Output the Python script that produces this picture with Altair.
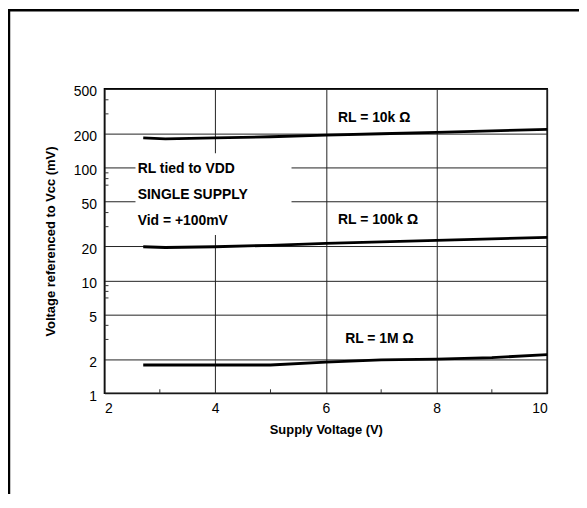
import altair as alt
import pandas as pd

# ---- data ----
x_10k = [2.7, 3.1, 4, 5, 6, 7, 8, 9, 10]
y_10k = [184, 180, 184, 188, 194, 200, 206, 212, 219]
x_100k = [2.7, 3.1, 4, 5, 6, 7, 8, 9, 10]
y_100k = [19.9, 19.6, 19.9, 20.5, 21.3, 22.0, 22.7, 23.4, 24.1]
x_1m = [2.7, 4, 5, 6, 7, 8, 9, 10]
y_1m = [1.78, 1.78, 1.78, 1.89, 1.98, 2.01, 2.07, 2.2]

x_major = [2, 4, 6, 8, 10]
x_minor = [3, 5, 7, 9]
y_major = [1, 2, 5, 10, 20, 50, 100, 200, 500]
y_minor = [400, 300, 90, 80, 70, 40, 30, 9, 8, 7, 4, 3]

curve_labels = ["RL = 10k  Ω", "RL = 100k Ω", "RL = 1M Ω"]
curve_label_x = [6.22, 6.22, 6.35]
curve_label_y = [277, 34.2, 3.0]

box_lines = ["RL tied to VDD", "SINGLE SUPPLY", "Vid = +100mV"]
box_x = [2.6, 2.6, 2.6]
box_y = [98, 57, 34]
box_rect = {"x0": [2.56], "x1": [5.38], "y0": [25.3], "y1": [134]}

FONT = "Liberation Sans"
W, H = 445, 306

rows = []
for name, xs, ys in [("10k", x_10k, y_10k), ("100k", x_100k, y_100k), ("1M", x_1m, y_1m)]:
    for a, b in zip(xs, ys):
        rows.append({"series": name, "x": a, "y": b})
df = pd.DataFrame(rows)

xscale = alt.Scale(domain=[2, 10], nice=False, zero=False)
yscale = alt.Scale(type="log", domain=[1, 500], nice=False)

X_AX = alt.Axis(values=x_major, grid=True, ticks=False, domain=False,
                labelFontSize=14, labelPadding=8, labelFont=FONT, labelColor="black",
                title="Supply Voltage (V)", titleFont=FONT, titleFontSize=13,
                titleFontWeight="bold", titleColor="black", titlePadding=8)
Y_AX = alt.Axis(values=y_major, grid=True, ticks=False, domain=False,
                labelFontSize=14, labelPadding=8, labelOffset=3, labelFont=FONT,
                labelColor="black", labelExpr="datum.value",
                title="Voltage referenced to Vcc (mV)", titleFont=FONT, titleFontSize=13,
                titleFontWeight="bold", titleColor="black", titlePadding=16)

rect = alt.Chart(pd.DataFrame(box_rect)).mark_rect(color="white").encode(
    x=alt.X("x0:Q", scale=xscale, axis=X_AX),
    x2="x1:Q",
    y=alt.Y("y0:Q", scale=yscale, axis=Y_AX),
    y2="y1:Q",
)

lines = alt.Chart(df).mark_line(color="black", strokeWidth=2.8).encode(
    x=alt.X("x:Q", scale=xscale, axis=X_AX),
    y=alt.Y("y:Q", scale=yscale, axis=Y_AX),
    detail="series:N",
)

lab_df = pd.DataFrame({"x": curve_label_x, "y": curve_label_y, "t": curve_labels})
curve_text = alt.Chart(lab_df).mark_text(
    align="left", baseline="middle", font=FONT, fontSize=14, fontWeight="bold", color="black"
).encode(
    x=alt.X("x:Q", scale=xscale, axis=X_AX),
    y=alt.Y("y:Q", scale=yscale, axis=Y_AX),
    text="t:N",
)

box_df = pd.DataFrame({"x": box_x, "y": box_y, "t": box_lines})
box_text = alt.Chart(box_df).mark_text(
    align="left", baseline="middle", font=FONT, fontSize=14, fontWeight="bold", color="black"
).encode(
    x=alt.X("x:Q", scale=xscale, axis=X_AX),
    y=alt.Y("y:Q", scale=yscale, axis=Y_AX),
    text="t:N",
)

ymin_ticks = alt.Chart(pd.DataFrame({"y": y_minor})).mark_rule(color="#333", strokeWidth=1).encode(
    y=alt.Y("y:Q", scale=yscale, axis=Y_AX),
    x=alt.value(0),
    x2=alt.value(4),
)
xmin_ticks = alt.Chart(pd.DataFrame({"x": x_minor})).mark_rule(color="#333", strokeWidth=1).encode(
    x=alt.X("x:Q", scale=xscale, axis=X_AX),
    y=alt.value(H),
    y2=alt.value(H - 4),
)

frame_left = alt.Chart(pd.DataFrame({"a": [0]})).mark_rule(color="black", strokeWidth=2.5).encode(
    x=alt.value(-96), y=alt.value(-79), y2=alt.value(H + 110)
)
frame_top = alt.Chart(pd.DataFrame({"a": [0]})).mark_rule(color="black", strokeWidth=2.5).encode(
    y=alt.value(-79), x=alt.value(-97), x2=alt.value(W + 40)
)

chart = alt.layer(
    rect, lines, curve_text, box_text, ymin_ticks, xmin_ticks, frame_left, frame_top
).properties(
    width=W, height=H,
    autosize=alt.AutoSizeParams(type="none"),
    padding={"left": 97, "top": 80, "right": 32, "bottom": 100},
).configure_view(
    stroke="black", strokeWidth=1.6
).configure_axis(
    gridColor="#222", gridWidth=1, gridOpacity=1
)

chart.save("out.html", embed_options={"renderer": "svg", "actions": False})
